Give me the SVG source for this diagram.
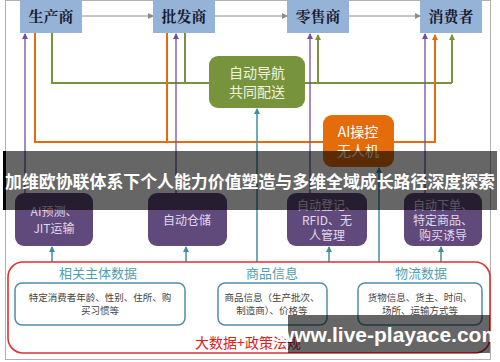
<svg xmlns="http://www.w3.org/2000/svg" width="500" height="362" viewBox="0 0 500 362">
<defs>
<marker id="aGray" markerWidth="6" markerHeight="6" refX="5" refY="3" orient="auto" markerUnits="userSpaceOnUse"><path d="M0,0 L6,3 L0,6 z" fill="#8c8c8c"/></marker>
<marker id="aGreen" markerWidth="6" markerHeight="6" refX="5" refY="3" orient="auto" markerUnits="userSpaceOnUse"><path d="M0,0 L6,3 L0,6 z" fill="#77933c"/></marker>
<marker id="aOrange" markerWidth="6" markerHeight="6" refX="5" refY="3" orient="auto" markerUnits="userSpaceOnUse"><path d="M0,0 L6,3 L0,6 z" fill="#e46c0a"/></marker>
<marker id="aPurple" markerWidth="6" markerHeight="6" refX="5" refY="3" orient="auto" markerUnits="userSpaceOnUse"><path d="M0,0 L6,3 L0,6 z" fill="#7050a0"/></marker>
<marker id="aTeal" markerWidth="6" markerHeight="6" refX="5" refY="3" orient="auto" markerUnits="userSpaceOnUse"><path d="M0,0 L6,3 L0,6 z" fill="#3f8f9f"/></marker>
</defs>
<style>
text{font-family:"Noto Sans CJK SC","Liberation Sans",sans-serif;text-anchor:middle}
.top{fill:#95b3d7}
.topt{font-size:15px;fill:#1a1a2e;font-weight:bold;font-family:"Noto Serif CJK SC","Noto Sans CJK SC",serif}
.pbox{fill:#604a7b}
.pt{font-size:12px;fill:#e0d8ee}
.gray{stroke:#8c8c8c;stroke-width:1;fill:none;marker-end:url(#aGray)}
.green{stroke:#77933c;stroke-width:2;fill:none}
.orange{stroke:#e46c0a;stroke-width:2;fill:none}
.purple{stroke:#7050a0;stroke-width:1.3;fill:none}
.teal{stroke:#3f8f9f;stroke-width:1.5;fill:none;marker-end:url(#aTeal)}
.ibox{fill:#fff;stroke:#4f8fa0;stroke-width:1.5}
.it{font-size:9.5px;fill:#444}
.sec{font-size:13px;fill:#4f9fae}
</style>
<rect x="5.5" y="0.5" width="485" height="359" fill="#fff" stroke="#b0b0b0"/>

<g id="connectors">
<line class="gray" x1="82" y1="16" x2="153" y2="16"/>
<line class="gray" x1="215" y1="16" x2="287" y2="16"/>
<line class="gray" x1="349" y1="16" x2="420" y2="16"/>
<polyline class="green" points="52,33 52,83 209,83"/>
<line class="green" x1="185" y1="33" x2="185" y2="83"/>
<line class="green" x1="305" y1="83" x2="452" y2="83"/>
<line class="green" x1="318" y1="83" x2="318" y2="35" marker-end="url(#aGreen)"/>
<line class="green" x1="452" y1="83" x2="452" y2="35" marker-end="url(#aGreen)"/>
<polyline class="orange" points="35,33 35,142 435,142 435,35" marker-end="url(#aOrange)"/>
<line class="orange" x1="167" y1="33" x2="167" y2="142"/>
<line class="purple" x1="25" y1="193" x2="25" y2="34" marker-end="url(#aPurple)"/>
<line class="purple" x1="176" y1="193" x2="176" y2="34" marker-end="url(#aPurple)"/>
<line class="purple" x1="310" y1="193" x2="310" y2="34" marker-end="url(#aPurple)"/>
<line class="purple" x1="425" y1="193" x2="425" y2="34" marker-end="url(#aPurple)"/>
<line class="teal" x1="52" y1="262" x2="52" y2="247"/>
<line class="teal" x1="186" y1="262" x2="186" y2="247"/>
<line class="teal" x1="257" y1="262" x2="257" y2="109"/>
<line class="teal" x1="329" y1="262" x2="329" y2="247"/>
<line class="teal" x1="379" y1="262" x2="379" y2="168"/>
<line class="teal" x1="441" y1="262" x2="441" y2="247"/>
</g>

<g id="producer"><rect class="top" x="20" y="0" width="62" height="33"/><text class="topt" x="51" y="22">生产商</text></g>
<g id="wholesaler"><rect class="top" x="153" y="0" width="62" height="33"/><text class="topt" x="184" y="22">批发商</text></g>
<g id="retailer"><rect class="top" x="287" y="0" width="62" height="33"/><text class="topt" x="318" y="22">零售商</text></g>
<g id="consumer"><rect class="top" x="420" y="0" width="62" height="33"/><text class="topt" x="451" y="22">消费者</text></g>

<g id="nav"><rect x="209" y="56" width="96" height="52" rx="9" fill="#77933c"/>
<text x="257" y="78" style="font-size:14px;fill:#eef3e0">自动导航</text>
<text x="257" y="97" style="font-size:14px;fill:#eef3e0">共同配送</text></g>

<g id="drone"><rect x="323" y="115" width="71" height="52" rx="9" fill="#e46c0a"/>
<text x="358" y="137" style="font-size:14px;fill:#fff">AI操控</text>
<text x="358" y="156" style="font-size:14px;fill:#fff">无人机</text></g>

<g id="p1"><rect class="pbox" x="15" y="193" width="78" height="53" rx="9"/>
<text class="pt" x="54" y="216">AI预测、</text><text class="pt" x="54" y="233">JIT运输</text></g>
<g id="p2"><rect class="pbox" x="148" y="193" width="79" height="53" rx="9"/>
<text class="pt" x="187" y="225">自动仓储</text></g>
<g id="p3"><rect class="pbox" x="287" y="193" width="80" height="53" rx="9"/>
<text class="pt" x="327" y="210">自动登记、</text><text class="pt" x="327" y="225">RFID、无</text><text class="pt" x="327" y="240">人管理</text></g>
<g id="p4"><rect class="pbox" x="404" y="193" width="78" height="53" rx="9"/>
<text class="pt" x="443" y="210">自动下单、</text><text class="pt" x="443" y="225">特定商品、</text><text class="pt" x="443" y="240">购买诱导</text></g>

<g id="bigdata">
<rect x="8" y="262" width="482" height="91" rx="15" fill="none" stroke="#e03030" stroke-width="1.6"/>
<text class="sec" x="98" y="278">相关主体数据</text>
<text class="sec" x="272" y="278">商品信息</text>
<text class="sec" x="421" y="278">物流数据</text>
<rect class="ibox" x="15" y="283" width="170" height="42" rx="7"/>
<text class="it" x="100" y="301">特定消费者年龄、性别、住所、购</text>
<text class="it" x="100" y="314">买习惯等</text>
<rect class="ibox" x="218" y="283" width="109" height="42" rx="7"/>
<text class="it" x="272" y="301">商品信息（生产批次、</text>
<text class="it" x="272" y="314">制造商）、价格等</text>
<rect class="ibox" x="358" y="283" width="124" height="42" rx="7"/>
<text class="it" x="420" y="301">货物信息、货主、时间、</text>
<text class="it" x="420" y="314">场所、运输方式等</text>
<text x="248" y="348" style="font-size:14px;fill:#e02020">大数据+政策法规</text>
</g>

<g id="banner">
<rect x="3" y="151" width="494" height="59" fill="#000" fill-opacity="0.6"/>
<rect x="3" y="151" width="3" height="59" fill="#000"/>
<text x="250" y="188" style="font-size:17px;font-weight:bold;fill:#fff" textLength="490" lengthAdjust="spacingAndGlyphs">加维欧协联体系下个人能力价值塑造与多维全域成长路径深度探索</text>
</g>
<g id="watermark">
<rect x="288" y="315" width="202" height="38" fill="#000" fill-opacity="0.6"/>
<text x="389" y="342" style="font-size:21px;font-weight:bold;fill:#fff;font-family:'Liberation Sans',sans-serif">www.live-playace.com</text>
</g>
</svg>
